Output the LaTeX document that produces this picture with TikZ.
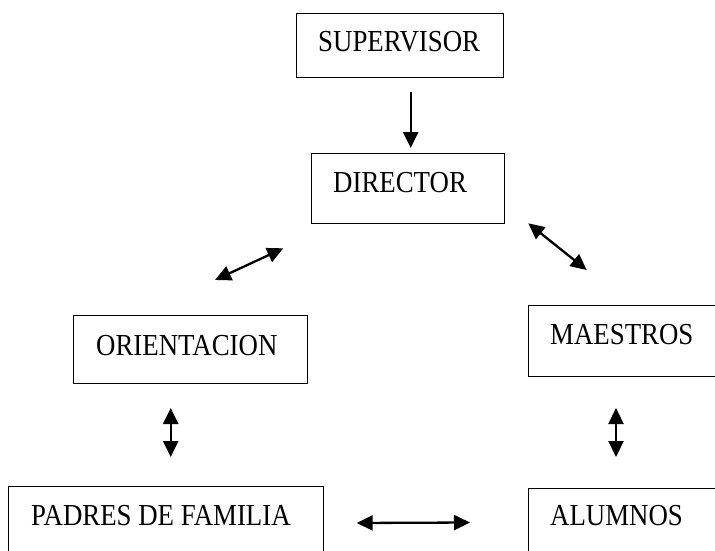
\documentclass[tikz,border=0pt]{standalone}
\usepackage{fontspec}
\setmainfont[FakeStretch=0.88]{Liberation Serif}
\usetikzlibrary{arrows.meta}
\tikzset{
  boxnode/.style={draw=black, line width=1.3pt, rectangle, inner sep=0pt, anchor=north west},
  lbl/.style={anchor=base west, inner sep=0pt, font=\fontsize{30.5}{34}\selectfont},
  conn/.style={line width=2.3pt, -{Triangle[length=16pt,width=15pt]}},
  bconn/.style={line width=2.3pt, {Triangle[length=16pt,width=15pt]}-{Triangle[length=16pt,width=15pt]}}
}
\begin{document}
\begin{tikzpicture}[x=1pt,y=-1pt]
\useasboundingbox (0,0) rectangle (715,551);
\clip (0,0) rectangle (715,551);
% boxes
\node[boxnode, minimum width=207pt, minimum height=64pt] (sup) at (296,13) {};
\node[boxnode, minimum width=193pt, minimum height=70pt] (dir) at (311,153) {};
\node[boxnode, minimum width=234pt, minimum height=68pt] (ori) at (73,315) {};
\node[boxnode, minimum width=200pt, minimum height=71pt] (mae) at (528,305) {};
\node[boxnode, minimum width=200pt, minimum height=80pt] (alu) at (528,488) {};
\node[boxnode, minimum width=315pt, minimum height=80pt] (pad) at (8,486) {};
% labels
\node[lbl] (tsup) at (318,52) {SUPERVISOR};
\node[lbl] (tdir) at (333,192) {DIRECTOR};
\node[lbl] (tori) at (96,355) {ORIENTACION};
\node[lbl] (tmae) at (550,344) {MAESTROS};
\node[lbl] (talu) at (550,525) {ALUMNOS};
\node[lbl] (tpad) at (31,525) {PADRES DE FAMILIA};
% arrow end points
\coordinate (a1) at (410.7,92);
\coordinate (a2) at (410.7,148);
\coordinate (b1) at (215,280);
\coordinate (b2) at (283.3,248.3);
\coordinate (c1) at (528.3,223.3);
\coordinate (c2) at (586.7,270);
\coordinate (d1) at (170.7,408);
\coordinate (d2) at (170.7,457);
\coordinate (e1) at (616,408);
\coordinate (e2) at (616,457);
\coordinate (f1) at (356.7,523);
\coordinate (f2) at (470,522.5);
% connectors
\draw[conn] (a1) -- (a2);
\draw[bconn] (b1) -- (b2);
\draw[bconn] (c1) -- (c2);
\draw[bconn] (d1) -- (d2);
\draw[bconn] (e1) -- (e2);
\draw[bconn] (f1) -- (f2);
\end{tikzpicture}
\end{document}
